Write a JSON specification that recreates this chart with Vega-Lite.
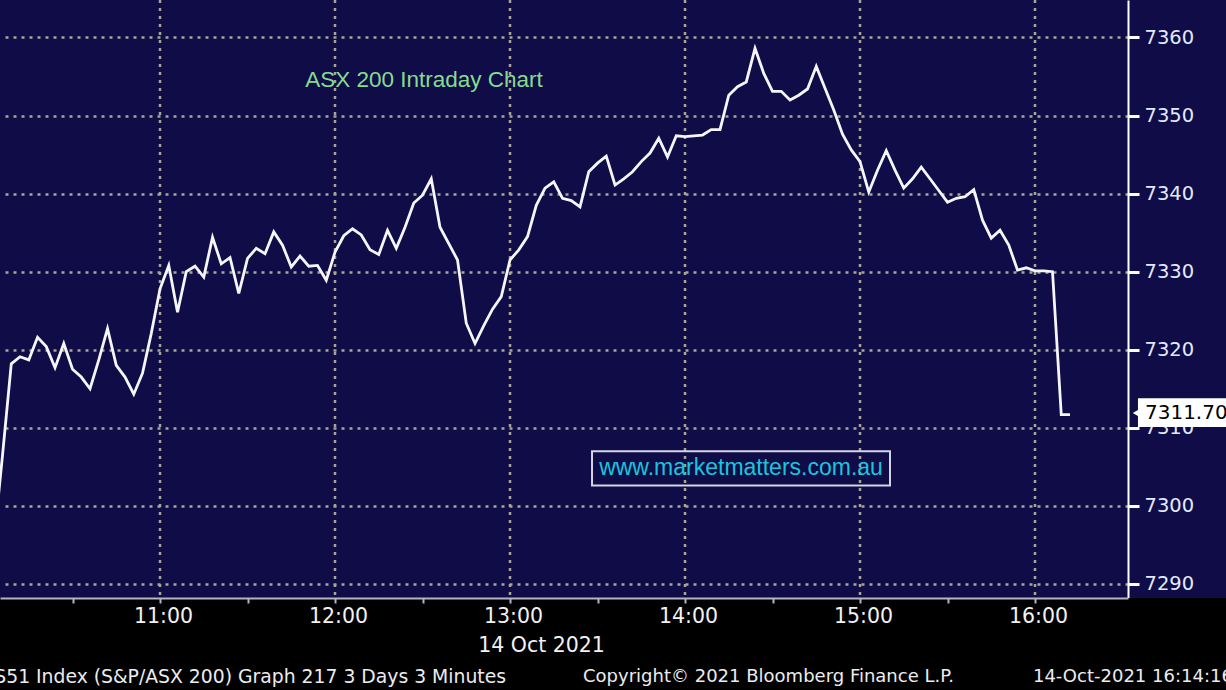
{
  "$schema": "https://vega.github.io/schema/vega-lite/v6.json",
  "width": 1128,
  "height": 598,
  "autosize": {"type": "none"},
  "padding": {"left": 0, "top": 0, "right": 98, "bottom": 92},
  "background": "#0f0c47",
  "view": {"stroke": null},
  "config": {"font": "DejaVu Sans"},
  "datasets": {
    "asx": [
      {"t": "2021-10-14T10:03:00", "v": 7295.3},
      {"t": "2021-10-14T10:06:00", "v": 7306.5},
      {"t": "2021-10-14T10:09:00", "v": 7318.2},
      {"t": "2021-10-14T10:12:00", "v": 7319.1},
      {"t": "2021-10-14T10:15:00", "v": 7318.7},
      {"t": "2021-10-14T10:18:00", "v": 7321.6},
      {"t": "2021-10-14T10:21:00", "v": 7320.4},
      {"t": "2021-10-14T10:24:00", "v": 7317.7},
      {"t": "2021-10-14T10:27:00", "v": 7320.8},
      {"t": "2021-10-14T10:30:00", "v": 7317.5},
      {"t": "2021-10-14T10:33:00", "v": 7316.5},
      {"t": "2021-10-14T10:36:00", "v": 7315.0},
      {"t": "2021-10-14T10:39:00", "v": 7318.7},
      {"t": "2021-10-14T10:42:00", "v": 7322.7},
      {"t": "2021-10-14T10:45:00", "v": 7318.0},
      {"t": "2021-10-14T10:48:00", "v": 7316.5},
      {"t": "2021-10-14T10:51:00", "v": 7314.3},
      {"t": "2021-10-14T10:54:00", "v": 7317.0},
      {"t": "2021-10-14T10:57:00", "v": 7322.1},
      {"t": "2021-10-14T11:00:00", "v": 7327.8},
      {"t": "2021-10-14T11:03:00", "v": 7330.8},
      {"t": "2021-10-14T11:06:00", "v": 7324.8},
      {"t": "2021-10-14T11:09:00", "v": 7330.0},
      {"t": "2021-10-14T11:12:00", "v": 7330.7},
      {"t": "2021-10-14T11:15:00", "v": 7329.3},
      {"t": "2021-10-14T11:18:00", "v": 7334.4},
      {"t": "2021-10-14T11:21:00", "v": 7331.0},
      {"t": "2021-10-14T11:24:00", "v": 7331.8},
      {"t": "2021-10-14T11:27:00", "v": 7327.2},
      {"t": "2021-10-14T11:30:00", "v": 7331.7},
      {"t": "2021-10-14T11:33:00", "v": 7333.0},
      {"t": "2021-10-14T11:36:00", "v": 7332.3},
      {"t": "2021-10-14T11:39:00", "v": 7335.1},
      {"t": "2021-10-14T11:42:00", "v": 7333.4},
      {"t": "2021-10-14T11:45:00", "v": 7330.6},
      {"t": "2021-10-14T11:48:00", "v": 7332.0},
      {"t": "2021-10-14T11:51:00", "v": 7330.7},
      {"t": "2021-10-14T11:54:00", "v": 7330.8},
      {"t": "2021-10-14T11:57:00", "v": 7328.9},
      {"t": "2021-10-14T12:00:00", "v": 7332.5},
      {"t": "2021-10-14T12:03:00", "v": 7334.6},
      {"t": "2021-10-14T12:06:00", "v": 7335.5},
      {"t": "2021-10-14T12:09:00", "v": 7334.7},
      {"t": "2021-10-14T12:12:00", "v": 7332.8},
      {"t": "2021-10-14T12:15:00", "v": 7332.2},
      {"t": "2021-10-14T12:18:00", "v": 7335.3},
      {"t": "2021-10-14T12:21:00", "v": 7333.0},
      {"t": "2021-10-14T12:24:00", "v": 7335.7},
      {"t": "2021-10-14T12:27:00", "v": 7338.8},
      {"t": "2021-10-14T12:30:00", "v": 7339.8},
      {"t": "2021-10-14T12:33:00", "v": 7341.9},
      {"t": "2021-10-14T12:36:00", "v": 7335.7},
      {"t": "2021-10-14T12:39:00", "v": 7333.6},
      {"t": "2021-10-14T12:42:00", "v": 7331.5},
      {"t": "2021-10-14T12:45:00", "v": 7323.4},
      {"t": "2021-10-14T12:48:00", "v": 7320.8},
      {"t": "2021-10-14T12:51:00", "v": 7323.1},
      {"t": "2021-10-14T12:54:00", "v": 7325.2},
      {"t": "2021-10-14T12:57:00", "v": 7326.8},
      {"t": "2021-10-14T13:00:00", "v": 7331.5},
      {"t": "2021-10-14T13:03:00", "v": 7332.8},
      {"t": "2021-10-14T13:06:00", "v": 7334.5},
      {"t": "2021-10-14T13:09:00", "v": 7338.5},
      {"t": "2021-10-14T13:12:00", "v": 7340.7},
      {"t": "2021-10-14T13:15:00", "v": 7341.5},
      {"t": "2021-10-14T13:18:00", "v": 7339.4},
      {"t": "2021-10-14T13:21:00", "v": 7339.1},
      {"t": "2021-10-14T13:24:00", "v": 7338.3},
      {"t": "2021-10-14T13:27:00", "v": 7342.8},
      {"t": "2021-10-14T13:30:00", "v": 7343.9},
      {"t": "2021-10-14T13:33:00", "v": 7344.8},
      {"t": "2021-10-14T13:36:00", "v": 7341.1},
      {"t": "2021-10-14T13:39:00", "v": 7341.9},
      {"t": "2021-10-14T13:42:00", "v": 7342.8},
      {"t": "2021-10-14T13:45:00", "v": 7344.1},
      {"t": "2021-10-14T13:48:00", "v": 7345.2},
      {"t": "2021-10-14T13:51:00", "v": 7347.1},
      {"t": "2021-10-14T13:54:00", "v": 7344.7},
      {"t": "2021-10-14T13:57:00", "v": 7347.4},
      {"t": "2021-10-14T14:00:00", "v": 7347.3},
      {"t": "2021-10-14T14:03:00", "v": 7347.4},
      {"t": "2021-10-14T14:06:00", "v": 7347.5},
      {"t": "2021-10-14T14:09:00", "v": 7348.2},
      {"t": "2021-10-14T14:12:00", "v": 7348.2},
      {"t": "2021-10-14T14:15:00", "v": 7352.6},
      {"t": "2021-10-14T14:18:00", "v": 7353.7},
      {"t": "2021-10-14T14:21:00", "v": 7354.3},
      {"t": "2021-10-14T14:24:00", "v": 7358.6},
      {"t": "2021-10-14T14:27:00", "v": 7355.4},
      {"t": "2021-10-14T14:30:00", "v": 7353.1},
      {"t": "2021-10-14T14:33:00", "v": 7353.1},
      {"t": "2021-10-14T14:36:00", "v": 7352.0},
      {"t": "2021-10-14T14:39:00", "v": 7352.6},
      {"t": "2021-10-14T14:42:00", "v": 7353.4},
      {"t": "2021-10-14T14:45:00", "v": 7356.3},
      {"t": "2021-10-14T14:48:00", "v": 7353.5},
      {"t": "2021-10-14T14:51:00", "v": 7350.7},
      {"t": "2021-10-14T14:54:00", "v": 7347.6},
      {"t": "2021-10-14T14:57:00", "v": 7345.6},
      {"t": "2021-10-14T15:00:00", "v": 7344.1},
      {"t": "2021-10-14T15:03:00", "v": 7340.2},
      {"t": "2021-10-14T15:06:00", "v": 7343.0},
      {"t": "2021-10-14T15:09:00", "v": 7345.5},
      {"t": "2021-10-14T15:12:00", "v": 7343.0},
      {"t": "2021-10-14T15:15:00", "v": 7340.7},
      {"t": "2021-10-14T15:18:00", "v": 7341.9},
      {"t": "2021-10-14T15:21:00", "v": 7343.4},
      {"t": "2021-10-14T15:24:00", "v": 7341.9},
      {"t": "2021-10-14T15:27:00", "v": 7340.4},
      {"t": "2021-10-14T15:30:00", "v": 7338.9},
      {"t": "2021-10-14T15:33:00", "v": 7339.4},
      {"t": "2021-10-14T15:36:00", "v": 7339.6},
      {"t": "2021-10-14T15:39:00", "v": 7340.5},
      {"t": "2021-10-14T15:42:00", "v": 7336.6},
      {"t": "2021-10-14T15:45:00", "v": 7334.3},
      {"t": "2021-10-14T15:48:00", "v": 7335.3},
      {"t": "2021-10-14T15:51:00", "v": 7333.4},
      {"t": "2021-10-14T15:54:00", "v": 7330.2},
      {"t": "2021-10-14T15:57:00", "v": 7330.5},
      {"t": "2021-10-14T16:00:00", "v": 7330.1},
      {"t": "2021-10-14T16:03:00", "v": 7330.1},
      {"t": "2021-10-14T16:06:00", "v": 7330.0},
      {"t": "2021-10-14T16:09:00", "v": 7311.7},
      {"t": "2021-10-14T16:12:00", "v": 7311.7}
    ],
    "hours": [
      {"g": "2021-10-14T11:00:00"},
      {"g": "2021-10-14T12:00:00"},
      {"g": "2021-10-14T13:00:00"},
      {"g": "2021-10-14T14:00:00"},
      {"g": "2021-10-14T15:00:00"},
      {"g": "2021-10-14T16:00:00"}
    ]
  },
  "layer": [
    {
      "data": {"name": "hours"},
      "mark": {"type": "rule", "color": "#a8a594", "strokeWidth": 2.5, "strokeDash": [3, 5]},
      "encoding": {
        "x": {"field": "g", "type": "temporal"}
      }
    },
    {
      "data": {"name": "asx"},
      "mark": {"type": "line", "color": "#f6f6fa", "strokeWidth": 2.8, "clip": true},
      "encoding": {
        "x": {
          "field": "t",
          "type": "temporal",
          "scale": {
            "domain": [
              {"year": 2021, "month": 10, "date": 14, "hours": 10, "minutes": 5, "seconds": 8},
              {"year": 2021, "month": 10, "date": 14, "hours": 16, "minutes": 31, "seconds": 53}
            ]
          },
          "axis": {
            "orient": "bottom",
            "values": [
              {"year": 2021, "month": 10, "date": 14, "hours": 10, "minutes": 30},
              {"year": 2021, "month": 10, "date": 14, "hours": 11, "minutes": 0},
              {"year": 2021, "month": 10, "date": 14, "hours": 11, "minutes": 30},
              {"year": 2021, "month": 10, "date": 14, "hours": 12, "minutes": 0},
              {"year": 2021, "month": 10, "date": 14, "hours": 12, "minutes": 30},
              {"year": 2021, "month": 10, "date": 14, "hours": 13, "minutes": 0},
              {"year": 2021, "month": 10, "date": 14, "hours": 13, "minutes": 30},
              {"year": 2021, "month": 10, "date": 14, "hours": 14, "minutes": 0},
              {"year": 2021, "month": 10, "date": 14, "hours": 14, "minutes": 30},
              {"year": 2021, "month": 10, "date": 14, "hours": 15, "minutes": 0},
              {"year": 2021, "month": 10, "date": 14, "hours": 15, "minutes": 30},
              {"year": 2021, "month": 10, "date": 14, "hours": 16, "minutes": 0}
            ],
            "labelExpr": "minutes(datum.value) == 0 ? timeFormat(datum.value, '%H:%M') : ''",
            "grid": false,
            "zindex": 1,
            "domainColor": "#b4b4c4",
            "domainWidth": 2,
            "tickColor": "#b4b4c4",
            "tickSize": 5,
            "tickWidth": 2,
            "labelColor": "#f2f2f2",
            "labelFont": "DejaVu Sans",
            "labelFontSize": 20.5,
            "labelPadding": 3,
            "labelOffset": 3,
            "labelOverlap": false,
            "labelFlush": false,
            "title": "14 Oct 2021",
            "titleColor": "#f2f2f2",
            "titleFont": "DejaVu Sans",
            "titleFontSize": 20.5,
            "titleFontWeight": "normal",
            "titlePadding": 9,
            "titleX": 541,
            "titleAlign": "center"
          }
        },
        "y": {
          "field": "v",
          "type": "quantitative",
          "scale": {"domain": [7288.2, 7364.8], "zero": false, "nice": false},
          "axis": {
            "orient": "right",
            "values": [7290, 7300, 7310, 7320, 7330, 7340, 7350, 7360],
            "format": "d",
            "grid": true,
            "gridColor": "#a8a594",
            "gridWidth": 2.5,
            "gridDash": [3, 5],
            "zindex": 0,
            "domainColor": "#ffffff",
            "domainWidth": 2,
            "tickColor": "#ffffff",
            "tickSize": 11,
            "tickWidth": 3,
            "labelColor": "#e4eafa",
            "labelFont": "DejaVu Sans",
            "labelFontSize": 19.5,
            "labelPadding": 5,
            "title": null
          }
        }
      }
    },
    {
      "data": {"values": [{"label": "ASX 200 Intraday Chart"}]},
      "mark": {"type": "text", "font": "Liberation Sans", "fontSize": 22.5, "color": "#86dc8e", "align": "center", "baseline": "middle"},
      "encoding": {
        "text": {"field": "label"},
        "x": {"datum": {"year": 2021, "month": 10, "date": 14, "hours": 12, "minutes": 30, "seconds": 31}, "type": "temporal"},
        "y": {"datum": 7354.5, "type": "quantitative"}
      }
    },
    {
      "data": {"values": [{"label": "www.marketmatters.com.au"}]},
      "mark": {"type": "rect", "fill": "#0f0c47", "fillOpacity": 0, "stroke": "#d4d4e4", "strokeWidth": 2},
      "encoding": {
        "x": {"datum": {"year": 2021, "month": 10, "date": 14, "hours": 13, "minutes": 28, "seconds": 7}, "type": "temporal"},
        "x2": {"datum": {"year": 2021, "month": 10, "date": 14, "hours": 15, "minutes": 10, "seconds": 17}},
        "y": {"datum": 7307.0, "type": "quantitative"},
        "y2": {"datum": 7302.6}
      }
    },
    {
      "data": {"values": [{"label": "www.marketmatters.com.au"}]},
      "mark": {"type": "text", "font": "Liberation Sans", "fontSize": 23, "color": "#18c6dc", "align": "center", "baseline": "middle"},
      "encoding": {
        "text": {"field": "label"},
        "x": {"datum": {"year": 2021, "month": 10, "date": 14, "hours": 14, "minutes": 19, "seconds": 12}, "type": "temporal"},
        "y": {"datum": 7304.8, "type": "quantitative"}
      }
    },
    {
      "data": {"values": [{}]},
      "mark": {"type": "rect", "fill": "#000000"},
      "encoding": {
        "x": {"datum": {"year": 2021, "month": 10, "date": 14, "hours": 9, "minutes": 0}, "type": "temporal"},
        "x2": {"datum": {"year": 2021, "month": 10, "date": 14, "hours": 18, "minutes": 0}},
        "y": {"datum": 7288.2, "type": "quantitative"},
        "y2": {"datum": 7270}
      }
    },
    {
      "data": {"values": [{}]},
      "mark": {"type": "point", "shape": "triangle-left", "size": 360, "filled": true, "color": "#ffffff", "opacity": 1},
      "encoding": {
        "x": {"datum": {"year": 2021, "month": 10, "date": 14, "hours": 16, "minutes": 36, "seconds": 20}, "type": "temporal"},
        "y": {"datum": 7311.9, "type": "quantitative"}
      }
    },
    {
      "data": {"values": [{}]},
      "mark": {"type": "rect", "fill": "#ffffff"},
      "encoding": {
        "x": {"datum": {"year": 2021, "month": 10, "date": 14, "hours": 16, "minutes": 35, "seconds": 18}, "type": "temporal"},
        "x2": {"datum": {"year": 2021, "month": 10, "date": 14, "hours": 17, "minutes": 10}},
        "y": {"datum": 7313.8, "type": "quantitative"},
        "y2": {"datum": 7310.1}
      }
    },
    {
      "data": {"values": [{"label": "7311.70"}]},
      "mark": {"type": "text", "font": "DejaVu Sans", "fontSize": 20, "color": "#000000", "align": "left", "baseline": "middle"},
      "encoding": {
        "text": {"field": "label"},
        "x": {"datum": {"year": 2021, "month": 10, "date": 14, "hours": 16, "minutes": 37, "seconds": 42}, "type": "temporal"},
        "y": {"datum": 7311.9, "type": "quantitative"}
      }
    },
    {
      "data": {"values": [{"label": "AS51 Index (S&P/ASX 200) Graph 217 3 Days 3 Minutes"}]},
      "mark": {"type": "text", "font": "DejaVu Sans", "fontSize": 18.8, "color": "#ececec", "align": "right", "baseline": "middle"},
      "encoding": {
        "text": {"field": "label"},
        "x": {"datum": {"year": 2021, "month": 10, "date": 14, "hours": 12, "minutes": 58, "seconds": 38}, "type": "temporal"},
        "y": {"datum": 7278.1, "type": "quantitative"}
      }
    },
    {
      "data": {"values": [{"label": "Copyright© 2021 Bloomberg Finance L.P."}]},
      "mark": {"type": "text", "font": "DejaVu Sans", "fontSize": 18, "color": "#ececec", "align": "left", "baseline": "middle"},
      "encoding": {
        "text": {"field": "label"},
        "x": {"datum": {"year": 2021, "month": 10, "date": 14, "hours": 13, "minutes": 25, "seconds": 2}, "type": "temporal"},
        "y": {"datum": 7278.1, "type": "quantitative"}
      }
    },
    {
      "data": {"values": [{"label": "14-Oct-2021 16:14:16"}]},
      "mark": {"type": "text", "font": "DejaVu Sans", "fontSize": 18, "color": "#ececec", "align": "left", "baseline": "middle"},
      "encoding": {
        "text": {"field": "label"},
        "x": {"datum": {"year": 2021, "month": 10, "date": 14, "hours": 15, "minutes": 59, "seconds": 18}, "type": "temporal"},
        "y": {"datum": 7278.1, "type": "quantitative"}
      }
    }
  ]
}
